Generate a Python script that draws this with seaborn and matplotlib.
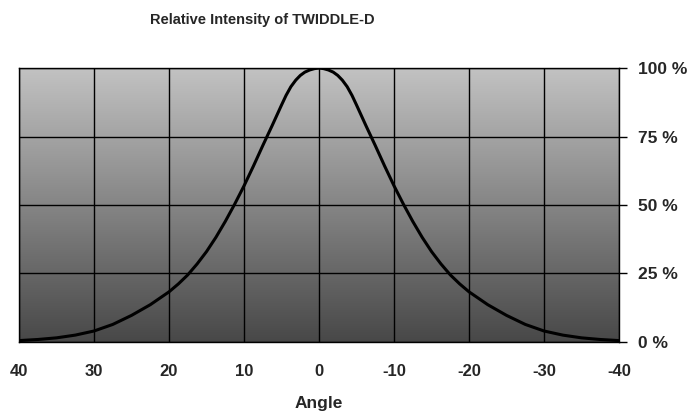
import numpy as np
import pandas as pd
import matplotlib
matplotlib.use("Agg")
import matplotlib.pyplot as plt
import seaborn as sns
from matplotlib.colors import LinearSegmentedColormap

# Half of the symmetric curve (angle in degrees, intensity in %)
half_angle = [0, 0.6, 1.25, 1.9, 2.5, 3.1, 3.75, 4.4, 5, 6.25, 7.5, 8.75, 10, 11.25,
              12.5, 13.75, 15, 16.25, 17.5, 18.75, 20, 22.5, 25, 27.5, 30, 32.5,
              35, 37.5, 40]
half_value = [100, 99.8, 99.3, 98.5, 97.3, 95.6, 93.2, 90, 86.5, 79, 71.7, 64.2, 57,
              50.3, 44, 38.2, 33, 28.5, 24.5, 21.2, 18.3, 13.6, 9.7, 6.4, 4.0, 2.5,
              1.5, 0.9, 0.5]

x_ticks = [40, 30, 20, 10, 0, -10, -20, -30, -40]
y_ticks = [0, 25, 50, 75, 100]
y_labels = ["0 %", "25 %", "50 %", "75 %", "100 %"]

angle = [-a for a in half_angle[::-1]] + half_angle[1:]
value = half_value[::-1] + half_value[1:]
df = pd.DataFrame({"Angle": angle, "Intensity": value})

sns.set_style("white")
plt.rcParams['font.family'] = ['Liberation Sans', 'DejaVu Sans']

fig = plt.figure(figsize=(6.94, 4.15), dpi=100)
ax = fig.add_axes([0.0274, 0.176, 0.8646, 0.66])

# grey gradient background of the plot area
grad = np.linspace(0, 1, 256).reshape(-1, 1)
cmap = LinearSegmentedColormap.from_list("bg", ["#484848", "#c2c2c2"])
ax.imshow(grad, cmap=cmap, aspect="auto", extent=[0, 1, 0, 1],
          transform=ax.transAxes, origin="lower", zorder=0)

sns.lineplot(data=df, x="Angle", y="Intensity", color="black", linewidth=2.2,
             ax=ax, zorder=3)

ax.set_xlim(40, -40)
ax.set_ylim(0, 100)
ax.set_xticks(x_ticks)
ax.set_xticklabels([str(t) for t in x_ticks], fontsize=12, fontweight="bold")
ax.yaxis.tick_right()
ax.set_yticks(y_ticks)
ax.set_yticklabels(y_labels, fontsize=12.5, fontweight="bold")
ax.tick_params(axis="x", direction="out", length=6, width=1, color="black", pad=10)
ax.tick_params(axis="y", direction="out", length=6, width=1, color="black", pad=8,
               right=True, left=False)
ax.grid(True, color="black", linewidth=1, zorder=1)
ax.set_axisbelow(False)
for s in ax.spines.values():
    s.set_color("black")
    s.set_linewidth(1)

ax.set_xlabel("Angle", fontsize=12.5, fontweight="bold", labelpad=12)
ax.set_ylabel("")

fig.text(0.378, 0.952, "Relative Intensity of TWIDDLE-D", ha="center", va="center",
         fontsize=10.5, fontweight="bold",
         family=['Liberation Sans Narrow', 'Liberation Sans', 'DejaVu Sans'])

fig.savefig("out.png", dpi=100, facecolor="white")
